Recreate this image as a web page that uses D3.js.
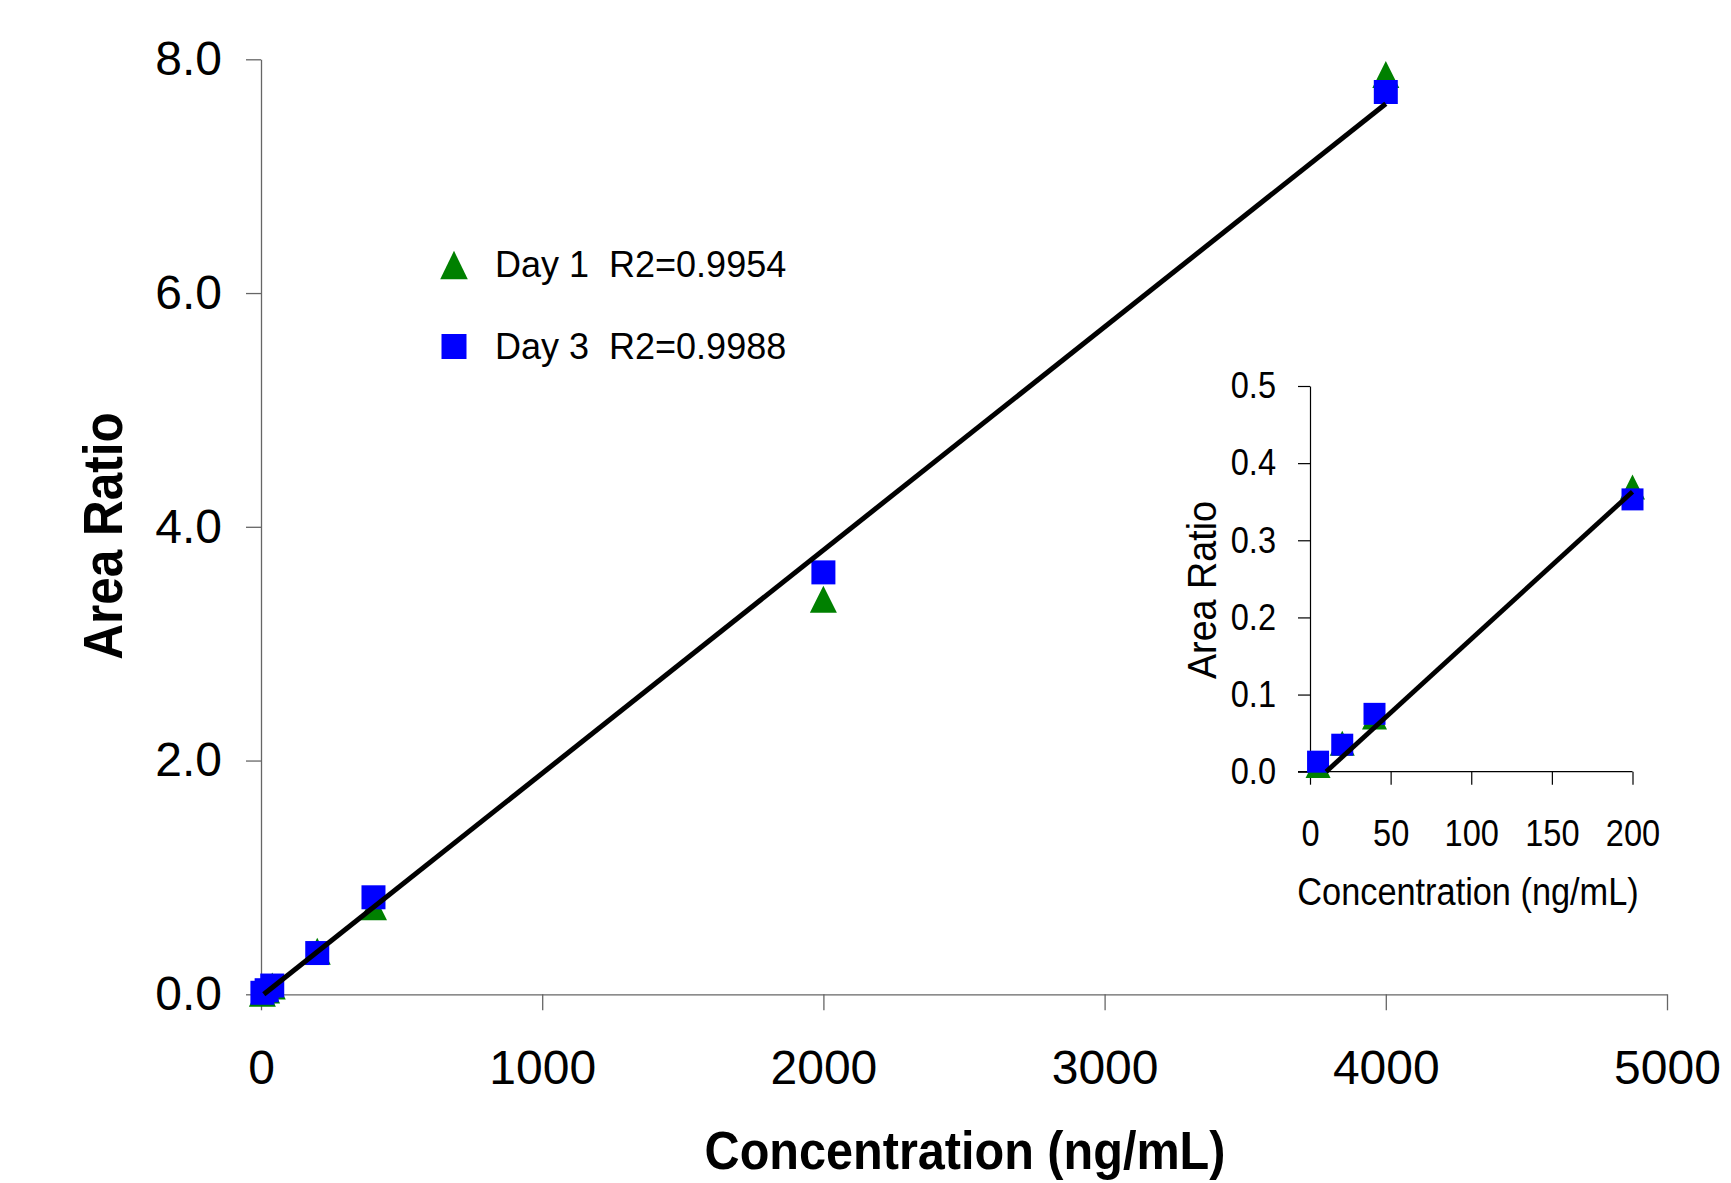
<!DOCTYPE html>
<html>
<head>
<meta charset="utf-8">
<script src="https://cdn.jsdelivr.net/npm/d3@7"></script>
<style>
  body { margin: 0; background: #fff; }
  svg { display: block; font-family: "Liberation Sans", Arial, sans-serif; }
</style>
</head>
<body>
<div id="chart"></div>
<script>
// calibration data, concentrations in ng/mL
const concentrations = [5, 20, 40, 200, 400, 2000, 4000]
const day1Ratios = [0.008, 0.037, 0.071, 0.369, 0.75, 3.38, 7.87]
const day3Ratios = [0.013, 0.035, 0.075, 0.353, 0.83, 3.61, 7.72]

// regression line end points
const fitMain  = [{ x: 10, y: 0 }, { x: 4000, y: 7.62 }]
const fitInset = [{ x: 10, y: 0 }, { x: 200, y: 0.363 }]

const mainXTicks  = [0, 1000, 2000, 3000, 4000, 5000]
const mainYTicks  = [0, 2, 4, 6, 8]
const insetXTicks = [0, 50, 100, 150, 200]
const insetYTicks = [0, 0.1, 0.2, 0.3, 0.4, 0.5]

const legendLabels = ['Day 1  R2=0.9954', 'Day 3  R2=0.9988']

const GREEN = '#008000'
const BLUE  = '#0000ff'

const W = 1731, H = 1183

const svg = d3.select('#chart').append('svg')
  .attr('width', W)
  .attr('height', H)

const triPath = (w, h) => `M0,${-h / 2}L${w / 2},${h / 2}L${-w / 2},${h / 2}Z`
const sqPath  = s => `M${-s / 2},${-s / 2}h${s}v${s}h${-s}Z`

const points = (vals, maxX) => concentrations
  .map((c, i) => ({ x: c, y: vals[i] }))
  .filter(d => d.x <= maxX)

function drawMarkers(g, x, y, maxX, triW, triH, sq) {
  g.append('g').selectAll('path')
    .data(points(day1Ratios, maxX)).join('path')
    .attr('d', triPath(triW, triH))
    .attr('transform', d => `translate(${x(d.x)},${y(d.y)})`)
    .attr('fill', GREEN)

  g.append('g').selectAll('path')
    .data(points(day3Ratios, maxX)).join('path')
    .attr('d', sqPath(sq))
    .attr('transform', d => `translate(${x(d.x)},${y(d.y)})`)
    .attr('fill', BLUE)
}

// ---- main chart
const x = d3.scaleLinear().domain([0, 5000]).range([261, 1667])
const y = d3.scaleLinear().domain([0, 8]).range([994.3, 59.3])

const main = svg.append('g')

main.append('g')
  .attr('transform', `translate(0,${y(0)})`)
  .call(d3.axisBottom(x).tickValues(mainXTicks).tickFormat(d3.format('d'))
    .tickSize(16).tickPadding(40).tickSizeOuter(0))
  .call(g => g.select('.domain').attr('stroke', '#666').attr('stroke-width', 1.3))
  .call(g => g.selectAll('.tick line').attr('stroke', '#666').attr('stroke-width', 1.3))
  .call(g => g.selectAll('text').attr('font-size', 48).attr('fill', '#000')
    .attr('font-family', '"Liberation Sans", Arial, sans-serif'))

main.append('g')
  .attr('transform', `translate(${x(0)},0)`)
  .call(d3.axisLeft(y).tickValues(mainYTicks).tickFormat(d3.format('.1f'))
    .tickSize(15).tickPadding(24).tickSizeOuter(0))
  .call(g => g.select('.domain').attr('stroke', '#666').attr('stroke-width', 1.3))
  .call(g => g.selectAll('.tick line').attr('stroke', '#666').attr('stroke-width', 1.3))
  .call(g => g.selectAll('text').attr('font-size', 48).attr('fill', '#000')
    .attr('font-family', '"Liberation Sans", Arial, sans-serif'))

drawMarkers(main, x, y, 5000, 27, 27, 24)

main.append('path')
  .datum(fitMain)
  .attr('fill', 'none')
  .attr('stroke', '#000')
  .attr('stroke-width', 5)
  .attr('d', d3.line().x(d => x(d.x)).y(d => y(d.y)))

// axis titles (slightly condensed, as in the original)
main.append('text')
  .attr('transform', `translate(965,1169) scale(0.9,1)`)
  .attr('text-anchor', 'middle')
  .attr('font-size', 54)
  .attr('font-weight', 'bold')
  .text('Concentration (ng/mL)')

main.append('text')
  .attr('transform', `translate(121.7,536) rotate(-90) scale(0.9,1)`)
  .attr('text-anchor', 'middle')
  .attr('font-size', 55)
  .attr('font-weight', 'bold')
  .text('Area Ratio')

// legend
const legend = main.append('g')
legendLabels.forEach((label, i) => {
  const row = legend.append('g').attr('transform', `translate(454,${265 + i * 81.5})`)
  row.append('path')
    .attr('d', i === 0 ? triPath(27.6, 28.3) : sqPath(25))
    .attr('fill', i === 0 ? GREEN : BLUE)
  row.append('text')
    .attr('x', 41)
    .attr('y', 12)
    .attr('font-size', 36)
    .style('white-space', 'pre')
    .text(label)
})

// ---- inset
const xi = d3.scaleLinear().domain([0, 200]).range([1310, 1632.5])
const yi = d3.scaleLinear().domain([0, 0.5]).range([771.7, 386])
const NARROW = 0.88

const inset = svg.append('g')

inset.append('g')
  .attr('transform', `translate(0,${yi(0)})`)
  .call(d3.axisBottom(xi).tickValues(insetXTicks).tickFormat(d3.format('d'))
    .tickSize(13).tickPadding(35).tickSizeOuter(0))
  .call(g => g.select('.domain').attr('stroke', '#000').attr('stroke-width', 1.2)
    .attr('d', `M${xi(0) - 12},0H${xi(200)}`))
  .call(g => g.selectAll('.tick line').attr('stroke', '#000').attr('stroke-width', 1.2))
  .call(g => g.selectAll('text').attr('font-size', 37).attr('fill', '#000')
    .attr('font-family', '"Liberation Sans", Arial, sans-serif')
    .attr('transform', `scale(${NARROW},1)`))

inset.append('g')
  .attr('transform', `translate(${xi(0)},0)`)
  .call(d3.axisLeft(yi).tickValues(insetYTicks).tickFormat(d3.format('.1f'))
    .tickSize(12).tickPadding(22).tickSizeOuter(0))
  .call(g => g.select('.domain').attr('stroke', '#000').attr('stroke-width', 1.2))
  .call(g => g.selectAll('.tick line').attr('stroke', '#000').attr('stroke-width', 1.2))
  .call(g => g.selectAll('text').attr('font-size', 37).attr('fill', '#000')
    .attr('font-family', '"Liberation Sans", Arial, sans-serif')
    .attr('x', -34 / NARROW)
    .attr('transform', `scale(${NARROW},1)`))

drawMarkers(inset, xi, yi, 200, 25, 25, 22)

inset.append('path')
  .datum(fitInset)
  .attr('fill', 'none')
  .attr('stroke', '#000')
  .attr('stroke-width', 4.8)
  .attr('d', d3.line().x(d => xi(d.x)).y(d => yi(d.y)))

inset.append('text')
  .attr('transform', `translate(1468,905) scale(${NARROW},1)`)
  .attr('text-anchor', 'middle')
  .attr('font-size', 39)
  .text('Concentration (ng/mL)')

inset.append('text')
  .attr('transform', `translate(1215.7,590) rotate(-90) scale(0.92,1)`)
  .attr('text-anchor', 'middle')
  .attr('font-size', 41)
  .text('Area Ratio')
</script>
</body>
</html>
